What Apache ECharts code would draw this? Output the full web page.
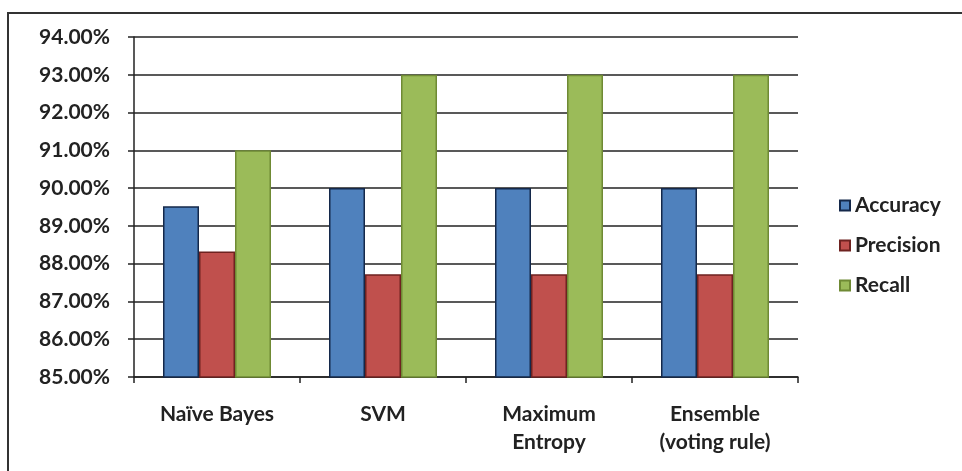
<!DOCTYPE html>
<html><head><meta charset="utf-8">
<script src="https://cdn.jsdelivr.net/npm/echarts@6/dist/echarts.min.js"></script>
<style>html,body{margin:0;padding:0;background:#fff}#c{width:962px;height:471px}</style>
</head><body><div id="c"></div>
<script>
const categories = ['Naïve Bayes', 'SVM', 'Maximum\nEntropy', 'Ensemble\n(voting rule)'];
const accuracy = [89.52, 90.0, 90.0, 90.0];
const precision = [88.32, 87.72, 87.72, 87.72];
const recall = [91.0, 93.0, 93.0, 93.0];
const seriesNames = ['Accuracy', 'Precision', 'Recall'];

const chart = echarts.init(document.getElementById('c'), null, {renderer: 'canvas'});
const font = 'Lato';
const mk = (name, data, color, border) => ({
  name, type: 'bar', data, barWidth: 36, barGap: '0%',
  itemStyle: {color, borderColor: border, borderWidth: 1.5}
});
chart.setOption({
  animation: false,
  backgroundColor: '#fff',
  graphic: [{type: 'rect', shape: {x: 8, y: 13, width: 1100, height: 600},
    style: {fill: 'none', stroke: '#333', lineWidth: 2}, silent: true}],
  grid: {left: 134, right: 164, top: 37, bottom: 94},
  legend: {
    orient: 'vertical', left: 834, top: 190, itemWidth: 10, itemHeight: 10, itemGap: 19,
    icon: 'rect',
    textStyle: {fontFamily: font, fontSize: 21, fontWeight: 'bold', color: '#222'},
    data: seriesNames
  },
  xAxis: {
    type: 'category', data: categories,
    axisLine: {lineStyle: {color: '#222', width: 1.5}},
    axisTick: {show: true, length: 6, lineStyle: {color: '#222', width: 1.5}},
    axisLabel: {fontFamily: font, fontSize: 21, fontWeight: 'bold', color: '#222', margin: 23, lineHeight: 28}
  },
  yAxis: {
    type: 'value', min: 85, max: 94, interval: 1,
    axisLine: {show: true, lineStyle: {color: '#222', width: 1.5}},
    axisTick: {show: true, length: 6, lineStyle: {color: '#222', width: 1.5}},
    splitLine: {lineStyle: {color: '#222', width: 1.5}},
    axisLabel: {fontFamily: font, fontSize: 21, fontWeight: 'bold', color: '#222', margin: 24,
      formatter: v => v.toFixed(2) + '%'}
  },
  series: [
    mk(seriesNames[0], accuracy, '#4F81BD', '#14284a'),
    mk(seriesNames[1], precision, '#C0504D', '#6e2220'),
    mk(seriesNames[2], recall, '#9BBB59', '#6f8a34')
  ]
});
</script></body></html>
